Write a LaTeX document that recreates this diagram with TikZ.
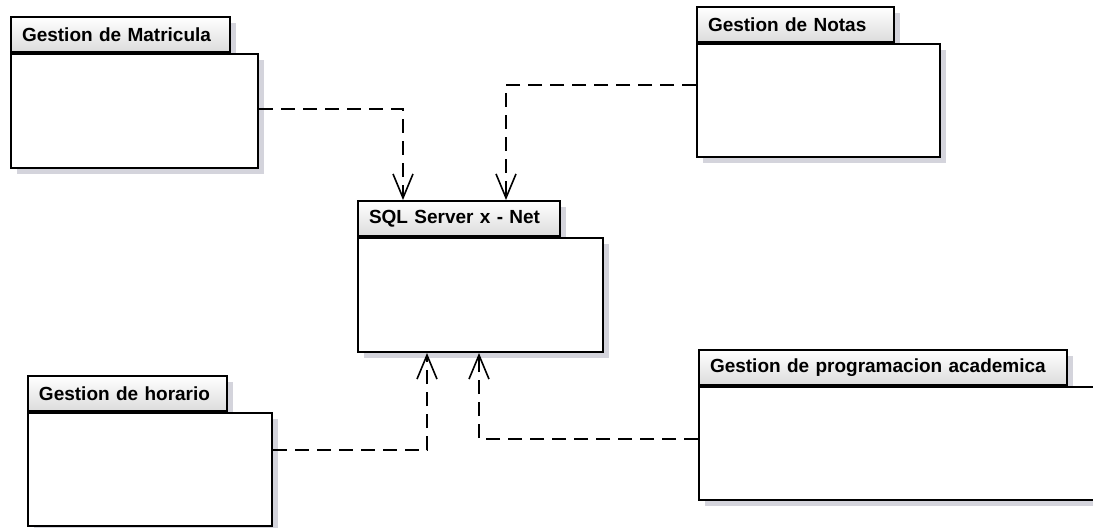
\documentclass[tikz,border=0pt]{standalone}
\usepackage{fontspec}
\setmainfont{Liberation Sans}
\definecolor{pkgShadow}{HTML}{D4D4DC}
\definecolor{pkgTabLow}{HTML}{DCDCDC}
\usetikzlibrary{positioning,arrows.meta,shadows}

\begin{document}
\begin{tikzpicture}[x=0.5pt, y=-0.5pt,
  font=\bfseries\fontsize{9.5}{11}\selectfont,
  pkgtab/.style={draw, line width=1pt, anchor=south west, top color=white, bottom color=pkgTabLow,
    inner xsep=5.5pt, minimum height=17.5pt, align=left,
    drop shadow={shadow xshift=3pt, shadow yshift=-3pt, fill=pkgShadow, opacity=1}},
  pkgbody/.style={draw, line width=1pt, anchor=north west, fill=white,
    drop shadow={shadow xshift=3pt, shadow yshift=-3pt, fill=pkgShadow, opacity=1}},
  dep/.style={dashed, dash pattern=on 7pt off 4pt, line width=1pt,
    -{Straight Barb[length=12pt, width=10pt, line width=0.8pt]}}]
\useasboundingbox (0,0) rectangle (1093,527);
% packages
\node[pkgtab, text width=98.5pt] (mattab) at (10,53) {Gestion de Matricula};
\node[pkgbody, minimum width=123.5pt, minimum height=57pt] (mat) at (mattab.south west) {};
\node[pkgtab, text width=87.5pt] (notastab) at (696,43) {Gestion de Notas};
\node[pkgbody, minimum width=121.5pt, minimum height=56.5pt] (notas) at (notastab.south west) {};
\node[pkgtab, text width=90pt] (sqltab) at (357,237) {SQL Server x - Net};
\node[pkgbody, minimum width=122.5pt, minimum height=57pt] (sql) at (sqltab.south west) {};
\node[pkgtab, text width=88.5pt] (hortab) at (27,412) {Gestion de horario};
\node[pkgbody, minimum width=122pt, minimum height=56.5pt] (hor) at (hortab.south west) {};
\node[pkgtab, text width=173pt] (progtab) at (698,386) {Gestion de programacion academica};
\node[pkgbody, minimum width=197.5pt, minimum height=56.5pt] (prog) at (progtab.south west) {};
% dependencies
\draw[dep] ([yshift=1pt]mat.east) -| ([xshift=23pt]sqltab.north west);
\draw[dep] ([yshift=7.75pt]notas.west) -| ([xshift=74.5pt]sqltab.north west);
\draw[dep] ([yshift=9.75pt]hor.east) -| ([xshift=35pt]sql.south west);
\draw[dep] ([yshift=2.25pt]prog.west) -| ([xshift=61pt]sql.south west);
\end{tikzpicture}
\end{document}
